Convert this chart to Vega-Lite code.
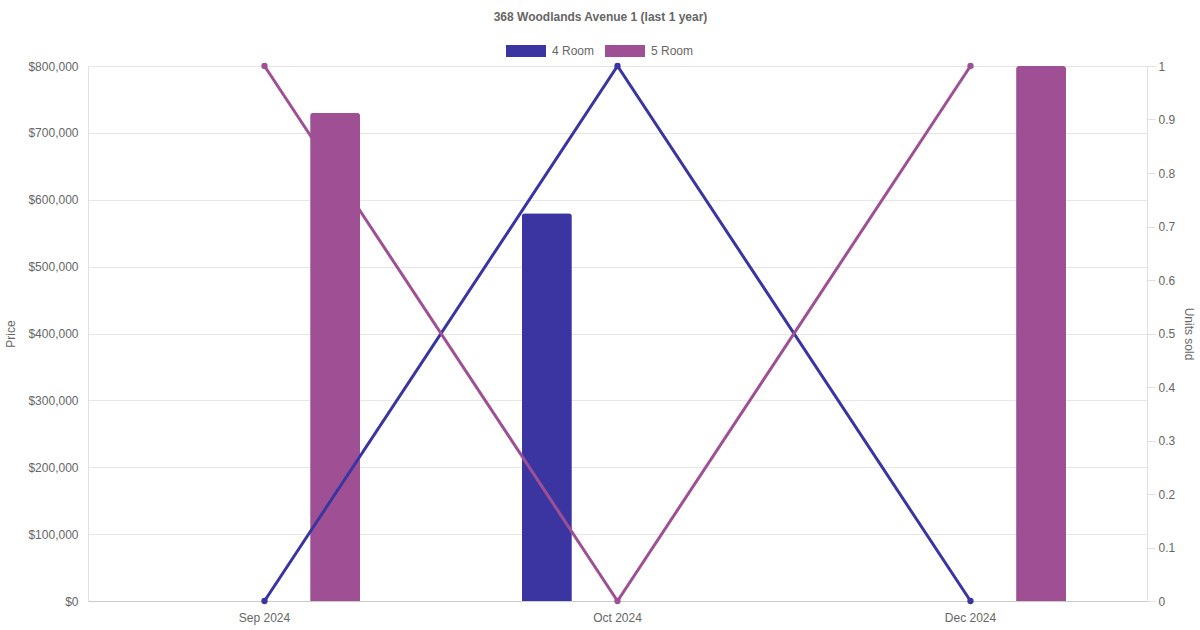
{
  "$schema": "https://vega.github.io/schema/vega-lite/v6.json",
  "autosize": "none",
  "width": 1059,
  "height": 535,
  "padding": {"left": 88, "top": 66, "right": 53, "bottom": 29},
  "title": {
    "text": "368 Woodlands Avenue 1 (last 1 year)",
    "fontSize": 12,
    "fontWeight": "bold",
    "color": "#666666",
    "font": "Liberation Sans",
    "dx": -17,
    "offset": 7
  },
  "datasets": {
    "sales": [
      {"month": "Sep 2024", "type": "4 Room", "price": null, "units": 0},
      {"month": "Sep 2024", "type": "5 Room", "price": 730000, "units": 1},
      {"month": "Oct 2024", "type": "4 Room", "price": 580000, "units": 1},
      {"month": "Oct 2024", "type": "5 Room", "price": null, "units": 0},
      {"month": "Dec 2024", "type": "4 Room", "price": null, "units": 0},
      {"month": "Dec 2024", "type": "5 Room", "price": 800000, "units": 1}
    ]
  },
  "data": {"name": "sales"},
  "encoding": {
    "x": {
      "field": "month",
      "type": "nominal",
      "sort": ["Sep 2024", "Oct 2024", "Dec 2024"],
      "scale": {"paddingInner": 0, "paddingOuter": 0},
      "axis": {
        "title": null,
        "labelAngle": 0,
        "ticks": false,
        "labelPadding": 11,
        "domainColor": "#cccccc",
        "grid": false
      }
    },
    "color": {
      "field": "type",
      "type": "nominal",
      "scale": {"domain": ["4 Room", "5 Room"], "range": ["#3a35a0", "#9f5094"]},
      "legend": {
        "title": null,
        "orient": "none",
        "direction": "horizontal",
        "legendX": 418,
        "legendY": -35,
        "symbolType": "M-1,-0.3H1V0.3H-1Z",
        "symbolSize": 1600,
        "symbolStrokeWidth": 0,
        "symbolOpacity": 1,
        "labelFontSize": 12,
        "labelColor": "#666666",
        "labelOffset": 6,
        "columnPadding": 10
      }
    }
  },
  "layer": [
    {
      "transform": [{"filter": "datum.price != null"}],
      "mark": {"type": "bar", "cornerRadiusTopLeft": 3, "cornerRadiusTopRight": 3},
      "encoding": {
        "xOffset": {
          "field": "type",
          "type": "nominal",
          "scale": {"domain": ["4 Room", "5 Room"], "paddingInner": 0.646, "paddingOuter": 0.573}
        },
        "y": {
          "field": "price",
          "type": "quantitative",
          "scale": {"domain": [0, 800000], "nice": false},
          "axis": {
            "orient": "left",
            "title": "Price",
            "values": [0, 100000, 200000, 300000, 400000, 500000, 600000, 700000, 800000],
            "format": "$,.0f",
            "ticks": false,
            "labelPadding": 10,
            "gridColor": "#e6e6e6",
            "domainColor": "#e0e0e0",
            "titlePadding": 10
          }
        }
      }
    },
    {
      "mark": {"type": "line", "strokeWidth": 3, "point": {"filled": true, "size": 40}},
      "encoding": {
        "y": {
          "field": "units",
          "type": "quantitative",
          "scale": {"domain": [0, 1], "nice": false},
          "axis": {
            "orient": "right",
            "title": "Units sold",
            "values": [0, 0.1, 0.2, 0.3, 0.4, 0.5, 0.6, 0.7, 0.8, 0.9, 1],
            "format": "~g",
            "grid": false,
            "tickSize": 8,
            "tickColor": "#e0e0e0",
            "domainColor": "#e0e0e0",
            "labelPadding": 3,
            "titlePadding": 7
          }
        }
      }
    }
  ],
  "resolve": {"scale": {"y": "independent"}},
  "config": {
    "font": "Liberation Sans",
    "view": {"stroke": null},
    "axis": {
      "labelFontSize": 12,
      "labelColor": "#666666",
      "titleFontSize": 12,
      "titleFontWeight": "normal",
      "titleColor": "#666666",
      "labelFont": "Liberation Sans",
      "titleFont": "Liberation Sans"
    },
    "legend": {"labelFont": "Liberation Sans"}
  }
}
